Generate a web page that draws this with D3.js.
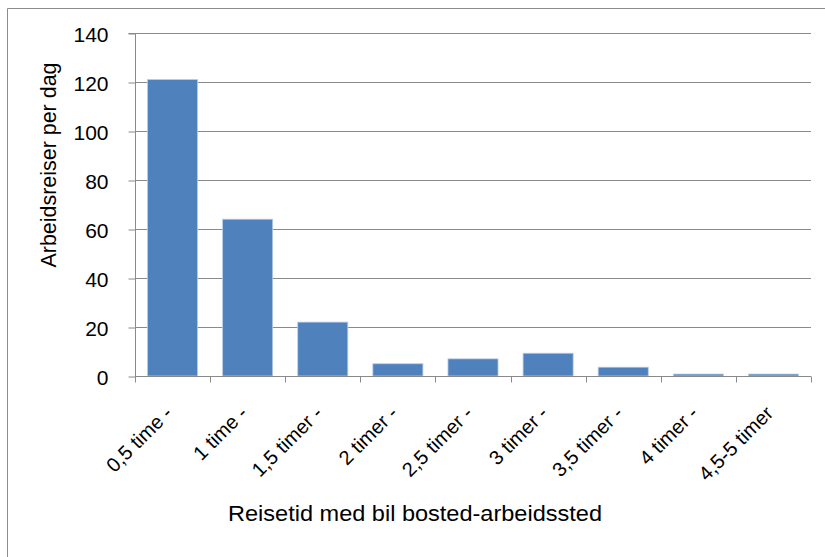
<!DOCTYPE html>
<html>
<head>
<meta charset="utf-8">
<script src="https://cdn.jsdelivr.net/npm/d3@7"></script>
<style>
  html, body { margin: 0; padding: 0; background: #fff; }
  svg { display: block; }
  text { font-family: "Liberation Sans", Arial, sans-serif; fill: #000; }
</style>
</head>
<body>
<svg id="chart" width="825" height="557"></svg>
<script>
// Travel time categories (car, home to work)
const categories = ["0,5 time -", "1 time -", "1,5 timer -", "2 timer -", "2,5 timer -",
                    "3 timer -", "3,5 timer -", "4 timer -", "4,5-5 timer"];
// Work trips per day
const trips = [121, 64, 22, 5, 7, 9.3, 3.6, 0.8, 0.8];
const yTicks = [0, 20, 40, 60, 80, 100, 120, 140];
const yTitle = "Arbeidsreiser per dag";
const xTitle = "Reisetid med bil bosted-arbeidssted";

const svg = d3.select("#chart");
const margin = { left: 135, right: 14, top: 33, bottom: 181 };
const W = 825, H = 557;

// chart frame
svg.append("path")
  .attr("d", `M7.5,${H} V8.5 H${W}`)
  .attr("fill", "none").attr("stroke", "#8c8c8c").attr("stroke-width", 1);

const x = d3.scaleBand().domain(categories)
  .range([margin.left, W - margin.right]).paddingInner(1/3).paddingOuter(1/6);
const y = d3.scaleLinear().domain([0, 140]).range([H - margin.bottom, margin.top]);

// horizontal gridlines
svg.append("g").selectAll("line").data(yTicks.filter(d => d > 0)).join("line")
  .attr("x1", margin.left).attr("x2", W - margin.right)
  .attr("y1", d => Math.round(y(d)) + 0.5).attr("y2", d => Math.round(y(d)) + 0.5)
  .attr("stroke", "#8a8a8a").attr("stroke-width", 1);

// bars
svg.append("g").selectAll("rect").data(trips).join("rect")
  .attr("x", (d, i) => x(categories[i]))
  .attr("width", x.bandwidth())
  .attr("y", d => y(d))
  .attr("height", d => y(0) - y(d))
  .attr("fill", "#4f81bd")
  .attr("stroke", "#b9cde5").attr("stroke-width", 0.8);

// y axis
const yAxis = d3.axisLeft(y).tickValues(yTicks).tickSize(7).tickPadding(20);
const gy = svg.append("g").attr("transform", `translate(${margin.left + 0.5},0.5)`).call(yAxis);
gy.select(".domain").attr("stroke", "#8a8a8a").attr("d", `M-7,${y(140)}H0V${y(0)}`);
gy.selectAll(".tick line").attr("stroke", "#8a8a8a");
gy.selectAll(".tick text").style("font-size", "21px").attr("dy", "0.36em");

// x axis: band boundary ticks
const gx = svg.append("g").attr("transform", `translate(0,${Math.round(y(0)) + 0.5})`);
gx.append("line").attr("x1", margin.left).attr("x2", W - margin.right)
  .attr("stroke", "#8a8a8a");
const step = x.step();
const bounds = d3.range(categories.length + 1).map(i => x.range()[0] + i * step);
gx.selectAll("line.tk").data(bounds).join("line").attr("class", "tk")
  .attr("x1", d => Math.round(d) + 0.5).attr("x2", d => Math.round(d) + 0.5)
  .attr("y1", 0).attr("y2", 6).attr("stroke", "#8a8a8a");

// rotated category labels
gx.selectAll("text.cat").data(categories).join("text").attr("class", "cat")
  .attr("transform", d => `translate(${x(d) + x.bandwidth() / 2 - 4},${33}) rotate(-45)`)
  .attr("text-anchor", "end")
  .attr("dy", "0.35em")
  .style("font-size", "20px")
  .text(d => d);

// axis titles
svg.append("text")
  .attr("transform", `translate(48,165) rotate(-90)`)
  .attr("text-anchor", "middle").attr("dy", "0.35em")
  .attr("textLength", 205).attr("lengthAdjust", "spacingAndGlyphs")
  .style("font-size", "22px")
  .text(yTitle);

svg.append("text")
  .attr("x", 415).attr("y", 521)
  .attr("text-anchor", "middle")
  .attr("textLength", 374).attr("lengthAdjust", "spacingAndGlyphs")
  .style("font-size", "22px")
  .text(xTitle);
</script>
</body>
</html>
